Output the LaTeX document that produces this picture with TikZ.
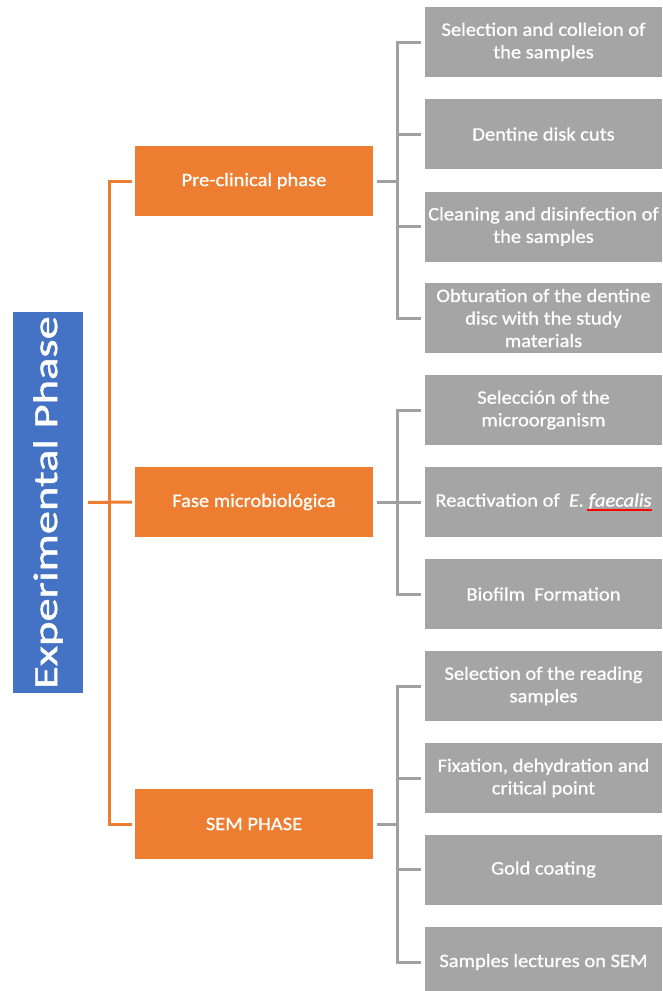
\documentclass[tikz,border=0pt]{standalone}
\usepackage{graphicx}
\usepackage{fontspec}
\setmainfont[FakeStretch=1.08,FakeBold=0.8]{Carlito}
\newfontfamily\bluefont[FakeStretch=1.37,FakeBold=1.4]{Carlito}
\definecolor{cblue}{HTML}{4472C4}
\definecolor{corange}{HTML}{ED7D31}
\definecolor{cgrey}{HTML}{A5A5A5}
\definecolor{cline}{HTML}{A0A0A0}
\definecolor{cred}{HTML}{FF0000}
\newcommand\redul[1]{\setbox0\hbox{#1}\rlap{\kern-2pt\textcolor{cred}{\rule[-4pt]{\dimexpr\wd0+2pt\relax}{1.8pt}}}\box0}
\begin{document}
\begin{tikzpicture}[x=1pt,y=-1pt,
  phasebox/.style={fill=corange,draw=none,minimum width=238pt,minimum height=70pt,
    text=white,font=\fontsize{19}{22.5}\selectfont,align=center,inner sep=0pt},
  stepbox/.style={fill=cgrey,draw=none,minimum width=237pt,minimum height=70pt,
    text=white,font=\fontsize{19}{22.5}\selectfont,align=center,inner sep=0pt},
  oline/.style={draw=corange,line width=3pt},
  gline/.style={draw=cline,line width=3pt}]
\useasboundingbox (0,0) rectangle (663,991);
\clip (0,0) rectangle (663,991);
\fill[white] (0,0) rectangle (663,991);

% main box
\node[fill=cblue,minimum width=70pt,minimum height=381pt,inner sep=0pt,text=white] (main) at (48,502.5)
  {\rotatebox{90}{\bluefont\fontsize{34}{40}\selectfont Experimental Phase}};

% phases
\node[phasebox] (pre) at (254,181) {Pre-clinical phase};
\node[phasebox] (fase) at (254,502) {Fase microbiológica};
\node[phasebox] (sem) at (254,824) {SEM PHASE};

% steps
\node[stepbox] (s1) at (543.5,42) {Selection and colleion of\\the samples};
\node[stepbox] (s2) at (543.5,134) {Dentine disk cuts};
\node[stepbox] (s3) at (543.5,226.5) {Cleaning and disinfection of\\the samples};
\node[stepbox] (s4) at (543.5,318) {Obturation of the dentine\\disc with the study\\materials};
\node[stepbox] (s5) at (543.5,410) {Selecci\'on of the\\microorganism};
\node[stepbox] (s6) at (543.5,502) {Reactivation of~ \textit{E. \redul{faecalis}}};
\node[stepbox] (s7) at (543.5,594) {Biofilm~ Formation};
\node[stepbox] (s8) at (543.5,686) {Selection of the reading\\samples};
\node[stepbox] (s9) at (543.5,778) {Fixation, dehydration and\\critical point};
\node[stepbox] (s10) at (543.5,869.5) {Gold coating};
\node[stepbox] (s11) at (543.5,962) {Samples lectures on SEM};

% orange connectors
\coordinate (ox) at (109,502);
\draw[oline] ([xshift=-3pt]pre.west) -| (ox) |- ([xshift=-3pt]sem.west);
\draw[oline] ([xshift=5pt]main.east) -- ([xshift=-3pt]fase.west);

% grey connectors
\foreach \p/\a/\b/\list in {pre/s1/s4/{s1,s2,s3,s4}, fase/s5/s7/{s5,s6,s7}, sem/s8/s11/{s8,s9,s10,s11}}{
  \draw[gline] ([xshift=4pt]\p.east) -- (397,0 |- \p.east);
  \draw[gline] ([xshift=-4pt]\a.west) -- (397,0 |- \a.west) -- (397,0 |- \b.west) -- ([xshift=-4pt]\b.west);
  \foreach \s in \list {\draw[gline] (397,0 |- \s.west) -- ([xshift=-4pt]\s.west);}
}
\end{tikzpicture}
\end{document}
